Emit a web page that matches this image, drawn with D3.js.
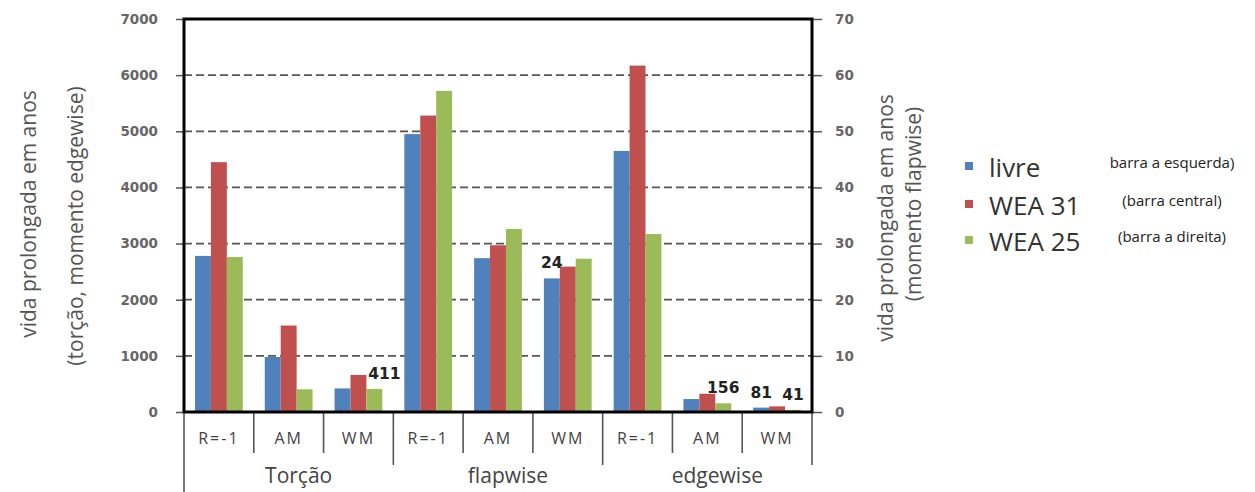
<!DOCTYPE html>
<html>
<head>
<meta charset="utf-8">
<script src="https://cdn.jsdelivr.net/npm/d3@7"></script>
<style>
  body { margin: 0; background: #fff; }
  .tick line { stroke: #555; stroke-width: 1.5; }
  .num text { font-family: "DejaVu Sans", Verdana, sans-serif; font-weight: bold; font-size: 13.5px; fill: #666; }
</style>
</head>
<body>
<div id="chart"></div>
<script>
// data
var groups = ["Torção", "flapwise", "edgewise"];
var subs = ["R=-1", "AM", "WM"];
var seriesNames = ["livre", "WEA 31", "WEA 25"];
var seriesNotes = ["barra a esquerda)", "(barra central)", "(barra a direita)"];
var seriesColors = ["#4f81bd", "#c0504d", "#9bbb59"];
// which axis each group is read on
var groupAxis = ["left", "right", "left"];
// values per category (Torção R=-1, AM, WM, flapwise ..., edgewise ...)
var livre = [2780, 980, 420, 49.5, 27.4, 23.8, 4650, 231, 78];
var wea31 = [4450, 1540, 660, 52.8, 29.7, 25.9, 6170, 325, 100];
var wea25 = [2760, 405, 411, 57.2, 32.6, 27.3, 3170, 155, 38];
var leftTicks = [0, 1000, 2000, 3000, 4000, 5000, 6000, 7000];
var rightTicks = [0, 10, 20, 30, 40, 50, 60, 70];
// value labels: category index, series index, text
var valueLabels = [
  {cat: 2, s: 2, text: "411"},
  {cat: 5, s: 0, text: "24"},
  {cat: 7, s: 2, text: "156"},
  {cat: 8, s: 0, text: "81"},
  {cat: 8, s: 2, text: "41"}
];

var W = 1255, H = 492;
var plot = {left: 184, right: 812, top: 19, bottom: 412};

var svg = d3.select("#chart").append("svg")
    .attr("width", W)
    .attr("height", H)
    .style("background", "#fff");

// categories: one per group/sub pair
var cats = [];
groups.forEach(function(g, gi) {
  subs.forEach(function(s) { cats.push({key: g + "|" + s, group: g, gi: gi, sub: s}); });
});
var values = [livre, wea31, wea25];

var x0 = d3.scaleBand()
    .domain(cats.map(function(d) { return d.key; }))
    .range([plot.left, plot.right]);
var x1 = d3.scaleBand()
    .domain(d3.range(seriesNames.length))
    .range([11, x0.bandwidth() - 11]);
var yL = d3.scaleLinear().domain([0, 7000]).range([plot.bottom, plot.top]);
var yR = d3.scaleLinear().domain([0, 70]).range([plot.bottom, plot.top]);

function yFor(ci) { return groupAxis[cats[ci].gi] === "right" ? yR : yL; }

// dashed grid
svg.append("g").selectAll("line")
    .data(leftTicks.filter(function(t) { return t > 0 && t < 7000; }))
    .enter().append("line")
    .attr("x1", plot.left).attr("x2", plot.right)
    .attr("y1", function(d) { return yL(d); })
    .attr("y2", function(d) { return yL(d); })
    .attr("stroke", "#555")
    .attr("stroke-width", 1.8)
    .attr("stroke-dasharray", "8,4");

// bars
var rows = [];
cats.forEach(function(c, ci) {
  values.forEach(function(v, si) { rows.push({ci: ci, si: si, v: v[ci]}); });
});
svg.append("g").selectAll("rect")
    .data(rows)
    .enter().append("rect")
    .attr("x", function(d) { return x0(cats[d.ci].key) + x1(d.si); })
    .attr("width", x1.bandwidth())
    .attr("y", function(d) { return yFor(d.ci)(d.v); })
    .attr("height", function(d) { return plot.bottom - yFor(d.ci)(d.v); })
    .attr("fill", function(d) { return seriesColors[d.si]; });

// value labels
svg.append("g").selectAll("text")
    .data(valueLabels)
    .enter().append("text")
    .attr("x", function(d) { return x0(cats[d.cat].key) + x1(d.s) + x1.bandwidth() / 2 + (d.text === "411" ? 10 : 0); })
    .attr("y", function(d) { return yFor(d.cat)(values[d.s][d.cat]) - 10; })
    .attr("text-anchor", "middle")
    .style("font-family", "'DejaVu Sans', Verdana, sans-serif")
    .style("font-weight", "bold")
    .style("font-size", "15.5px")
    .style("fill", "#222")
    .text(function(d) { return d.text; });

// left axis
var axL = svg.append("g")
    .attr("class", "num")
    .attr("transform", "translate(" + plot.left + ",0)")
    .call(d3.axisLeft(yL).tickValues(leftTicks).tickSize(8).tickPadding(18).tickFormat(d3.format("d")));
axL.select(".domain").remove();

// right axis
var axR = svg.append("g")
    .attr("class", "num")
    .attr("transform", "translate(" + plot.right + ",0)")
    .call(d3.axisRight(yR).tickValues(rightTicks).tickSize(10).tickPadding(13));
axR.select(".domain").remove();

// category axis: sub labels
var axB = svg.append("g")
    .attr("transform", "translate(0," + plot.bottom + ")")
    .call(d3.axisBottom(x0).tickSize(0).tickFormat(function(k) { return k.split("|")[1]; }));
axB.select(".domain").remove();
axB.selectAll("text")
    .attr("y", 26)
    .attr("dy", "0.35em")
    .style("font-family", "'Open Sans', sans-serif")
    .style("font-size", "16px")
    .style("letter-spacing", "2px")
    .style("fill", "#444");

// separators between categories
var edges = cats.map(function(c) { return x0(c.key); }).concat([plot.right]);
svg.append("g").selectAll("line")
    .data(edges)
    .enter().append("line")
    .attr("x1", function(d) { return d; })
    .attr("x2", function(d) { return d; })
    .attr("y1", plot.bottom)
    .attr("y2", function(d, i) { return i === 0 ? H : (i % 3 === 0 ? 465 : 453); })
    .attr("stroke", "#555")
    .attr("stroke-width", 1.6);

// group labels
svg.append("g").selectAll("text")
    .data(groups)
    .enter().append("text")
    .attr("x", function(d, i) { return (x0(cats[i * 3].key) + x0(cats[i * 3 + 2].key) + x0.bandwidth()) / 2 + 10; })
    .attr("y", 483)
    .attr("text-anchor", "middle")
    .style("font-family", "'Open Sans', sans-serif")
    .style("font-size", "21px")
    .style("fill", "#444")
    .text(function(d) { return d; });

// frame
svg.append("rect")
    .attr("x", plot.left).attr("y", plot.top)
    .attr("width", plot.right - plot.left)
    .attr("height", plot.bottom - plot.top)
    .attr("fill", "none")
    .attr("stroke", "#000")
    .attr("stroke-width", 3);

// axis titles
function vTitle(cx, cy, txt) {
  svg.append("text")
    .attr("transform", "translate(" + cx + "," + cy + ") rotate(-90)")
    .attr("text-anchor", "middle")
    .attr("dominant-baseline", "central")
    .style("font-family", "'Open Sans', sans-serif")
    .style("font-size", "21px")
    .style("fill", "#555")
    .text(txt);
}
vTitle(28, 214, "vida prolongada em anos");
vTitle(75, 226, "(torção, momento edgewise)");
vTitle(885, 218, "vida prolongada em anos");
vTitle(913, 204, "(momento flapwise)");

// legend
var leg = svg.append("g").attr("transform", "translate(965,0)");
var legY = [177, 215, 251];
seriesNames.forEach(function(name, i) {
  leg.append("rect")
    .attr("x", 0).attr("y", legY[i] - 15)
    .attr("width", 8).attr("height", 8)
    .attr("fill", seriesColors[i]);
  leg.append("text")
    .attr("x", 24).attr("y", legY[i])
    .style("font-family", "'Open Sans', sans-serif")
    .style("font-size", "26px")
    .style("fill", "#333")
    .text(name);
  leg.append("text")
    .attr("x", 207).attr("y", legY[i] - 9)
    .attr("text-anchor", "middle")
    .style("font-family", "'Open Sans', sans-serif")
    .style("font-size", "15px")
    .style("fill", "#222")
    .text(seriesNotes[i]);
});
</script>
</body>
</html>
